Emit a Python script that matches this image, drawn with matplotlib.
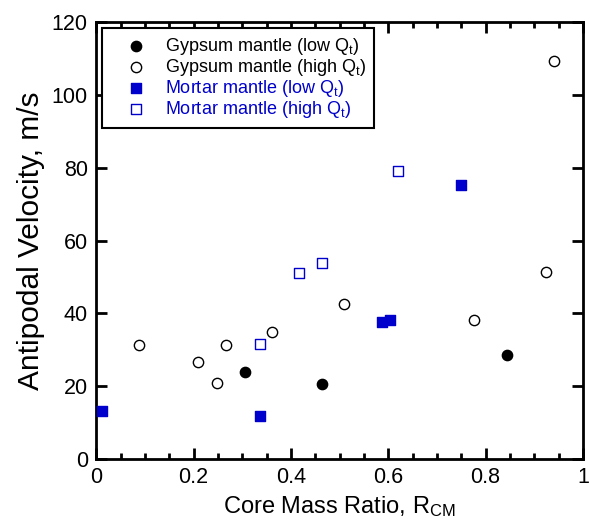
import matplotlib
matplotlib.use('Agg')
import matplotlib.pyplot as plt
from matplotlib.ticker import MultipleLocator, FixedLocator, FixedFormatter

plt.rcParams['font.family'] = ['Liberation Sans', 'DejaVu Sans']
plt.rcParams['mathtext.fontset'] = 'custom'
plt.rcParams['mathtext.rm'] = 'Liberation Sans'
plt.rcParams['mathtext.it'] = 'Liberation Sans'

# Gypsum mantle, low Qt
gyp_low_x = [0.305, 0.463, 0.843]
gyp_low_y = [23.8, 20.5, 28.7]

# Gypsum mantle, high Qt
gyp_high_x = [0.087, 0.210, 0.248, 0.267, 0.362, 0.510, 0.776, 0.925, 0.940]
gyp_high_y = [31.3, 26.6, 21.0, 31.2, 35.0, 42.7, 38.3, 51.5, 109.3]

# Mortar mantle, low Qt
mor_low_x = [0.012, 0.337, 0.587, 0.603, 0.750]
mor_low_y = [13.2, 11.8, 37.7, 38.2, 75.3]

# Mortar mantle, high Qt
mor_high_x = [0.337, 0.417, 0.464, 0.620]
mor_high_y = [31.7, 51.1, 53.8, 79.2]

x_ticks = [0, 0.2, 0.4, 0.6, 0.8, 1.0]
x_tick_labels = ['0', '0.2', '0.4', '0.6', '0.8', '1']
y_ticks = [0, 20, 40, 60, 80, 100, 120]

blue = '#0000cc'

fig = plt.figure(figsize=(5.9, 5.27), dpi=100)
ax = fig.add_axes([0.163, 0.129, 0.825, 0.829])

ax.scatter(gyp_low_x, gyp_low_y, s=55, marker='o', facecolor='black',
           edgecolor='black', label='Gypsum mantle (low Q$_t$)', zorder=3, clip_on=False)
ax.scatter(gyp_high_x, gyp_high_y, s=55, marker='o', facecolor='white',
           edgecolor='black', linewidth=1, label='Gypsum mantle (high Q$_t$)', zorder=3, clip_on=False)
ax.scatter(mor_low_x, mor_low_y, s=60, marker='s', facecolor=blue,
           edgecolor=blue, label='Mortar mantle (low Q$_t$)', zorder=3, clip_on=False)
ax.scatter(mor_high_x, mor_high_y, s=60, marker='s', facecolor='white',
           edgecolor=blue, linewidth=1, label='Mortar mantle (high Q$_t$)', zorder=3, clip_on=False)

ax.set_xlim(0, 1)
ax.set_ylim(0, 120)
ax.xaxis.set_major_locator(FixedLocator(x_ticks))
ax.xaxis.set_major_formatter(FixedFormatter(x_tick_labels))
ax.xaxis.set_minor_locator(MultipleLocator(0.05))
ax.yaxis.set_major_locator(FixedLocator(y_ticks))

ax.tick_params(which='both', direction='in', top=True, right=True, width=2,
               labelsize=15.5, pad=6)
ax.tick_params(which='major', length=8)
ax.tick_params(which='minor', length=4)
for sp in ax.spines.values():
    sp.set_linewidth(2)

ax.set_xlabel('Core Mass Ratio, R$_{CM}$', fontsize=17)
ax.set_ylabel('Antipodal Velocity, m/s', fontsize=21.5, labelpad=5)

leg = ax.legend(loc='upper left', frameon=True, fancybox=False, fontsize=13,
                edgecolor='black', borderpad=0.45, handletextpad=0.15,
                labelspacing=0.0, borderaxespad=0.3, handlelength=2.9,
                scatterpoints=1)
leg.get_frame().set_linewidth(1.5)
leg.get_frame().set_alpha(1)
for txt in leg.get_texts()[2:]:
    txt.set_color(blue)

fig.savefig('out.png', dpi=100)
